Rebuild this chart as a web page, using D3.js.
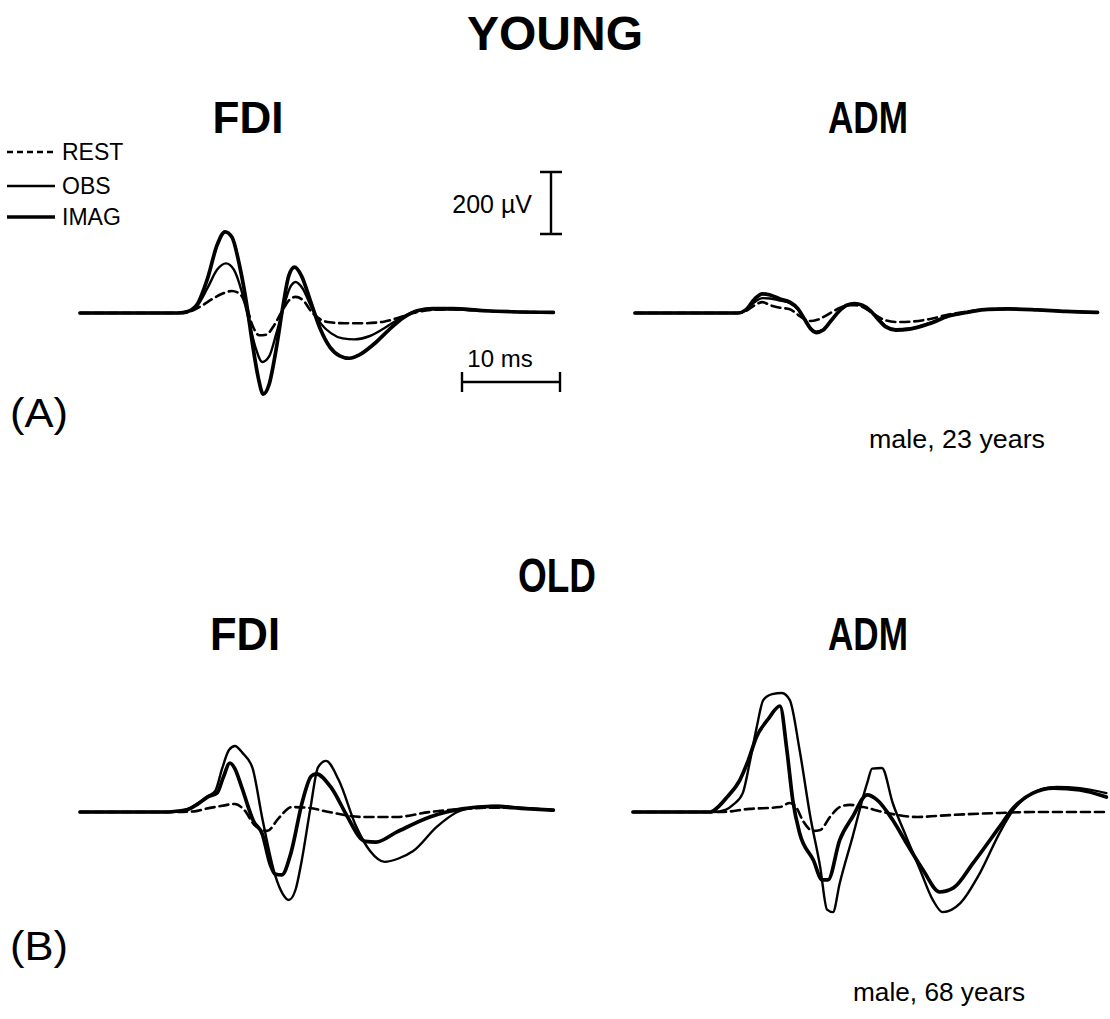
<!DOCTYPE html>
<html>
<head>
<meta charset="utf-8">
<script src="https://cdn.jsdelivr.net/npm/d3@7"></script>
<style>
  html, body { margin: 0; padding: 0; background: #fff; }
  svg { display: block; font-family: "Liberation Sans", Arial, sans-serif; }
</style>
</head>
<body>
<svg id="fig" width="1110" height="1019"></svg>
<script>
// Motor evoked potentials, [time (ms), amplitude (µV)] samples per condition

// YOUNG – FDI
const youngFdiRest = [[0,0],[10.5,0],[11.5,8],[12.5,25],[13.5,45],[14.5,62],[15.5,71],[16.3,62],[17,20],[17.6,-40],[18.3,-72],[19,-70],[19.8,-40],[20.6,5],[21.3,40],[22,52],[22.8,40],[23.6,5],[24.5,-20],[25.5,-30],[27,-33],[29,-33],[31,-28],[32.5,-15],[34,0],[36,10],[38,12],[41,7],[44,4],[48.3,2]];
const youngFdiObs = [[0,0],[10,0],[11,5],[12,25],[13,80],[14,140],[14.9,160],[15.7,140],[16.5,70],[17.2,-20],[17.9,-110],[18.6,-158],[19.3,-140],[20,-70],[20.7,10],[21.4,80],[22,100],[22.7,80],[23.6,20],[24.6,-35],[25.6,-65],[26.8,-82],[28,-85],[29.5,-75],[31,-50],[32.5,-20],[34,3],[36,12],[38,12],[41,7],[44,4],[48.3,2]];
const youngFdiImag = [[0,0],[10,0],[11,5],[12,30],[13,110],[14,220],[14.8,262],[15.5,245],[16.3,150],[17,30],[17.6,-100],[18.2,-210],[18.7,-262],[19.3,-230],[20,-120],[20.7,20],[21.3,120],[21.9,148],[22.6,120],[23.5,40],[24.5,-50],[25.5,-110],[26.5,-138],[27.5,-146],[28.5,-135],[30,-100],[31.5,-55],[33,-15],[34.5,8],[36,14],[38,14],[41,8],[44,4],[48.3,2]];

// YOUNG – ADM
const youngAdmRest = [[0,0],[10.5,0],[11.3,6],[12.2,25],[13,35],[13.8,25],[14.8,17],[15.8,12],[16.6,-5],[17.3,-20],[17.9,-26],[18.6,-22],[19.4,-10],[20.2,5],[21,18],[21.8,25],[22.5,25],[23.3,18],[24,5],[24.8,-12],[25.6,-24],[26.6,-29],[28,-28],[30,-20],[32,-5],[34,5],[36,12],[38,13],[41,10],[44,5],[47.2,2]];
const youngAdmObs = [[0,0],[10.5,0],[11.3,8],[12.2,35],[13,48],[13.8,47],[14.8,40],[15.8,32],[16.6,12],[17.3,-20],[17.9,-48],[18.5,-60],[19.2,-54],[20,-25],[20.8,5],[21.6,24],[22.4,29],[23.2,24],[24,8],[24.8,-18],[25.6,-42],[26.6,-52],[28,-50],[30,-33],[32,-10],[34,3],[36,12],[38,13],[41,10],[44,5],[47.2,2]];
const youngAdmImag = [[0,0],[10.5,0],[11.3,10],[12.2,45],[13,62],[13.8,58],[14.8,45],[15.8,35],[16.6,15],[17.3,-20],[17.9,-50],[18.5,-63],[19.2,-55],[20,-25],[20.8,5],[21.6,25],[22.4,30],[23.2,25],[24,8],[24.8,-20],[25.6,-45],[26.6,-55],[28,-52],[30,-35],[32,-10],[34,3],[36,12],[38,13],[41,10],[44,5],[47.2,2]];

// OLD – FDI
const oldFdiRest = [[0,0],[10,0],[11.7,2],[12.8,10],[14.5,20],[15.8,26],[16.8,5],[17.8,-42],[19.1,-61],[20.3,-19],[21.6,16],[23.4,13],[25.4,0],[28.9,-16],[32.3,-16],[35.7,0],[39.2,10],[42,14],[45,12],[48.3,6]];
const oldFdiObs = [[0,0],[9,0],[10,3],[11,10],[12,28],[13,50],[13.8,68],[14.5,140],[15.2,200],[15.8,213],[16.6,190],[17.6,142],[18.6,-20],[19.9,-203],[20.7,-265],[21.3,-284],[22,-250],[22.6,-161],[23.5,10],[24.3,145],[25.1,165],[26.4,103],[28.2,-48],[29.6,-126],[31.1,-161],[32.5,-150],[34,-126],[36.4,-48],[38.5,0],[40.5,15],[42.7,20],[45,14],[48.3,6]];
const oldFdiImag = [[0,0],[9,0],[10,3],[11,8],[12,25],[13,48],[14,62],[14.6,110],[15.3,158],[15.8,140],[16.5,80],[17.7,-29],[18.6,-71],[19.4,-168],[19.9,-200],[20.6,-203],[21.5,-135],[22.7,35],[23.6,116],[24.1,123],[25.6,80],[27.2,-10],[28.6,-84],[29.1,-95],[30.2,-97],[32.3,-65],[35.7,-16],[37.4,0],[39,10],[42,18],[45,12],[48.3,6]];

// OLD – ADM
const oldAdmRest = [[0,0],[9,0],[11.9,10],[15,16],[16,29],[16.7,13],[17.3,-26],[18.4,-61],[19.1,-58],[20.1,-16],[21.1,16],[22.1,23],[23.5,16],[25.5,0],[29,-16],[32.3,-10],[37.4,-3],[40.8,0],[48.3,0]];
const oldAdmObs = [[0,0],[8.2,0],[9.5,8],[10.2,23],[11.2,61],[11.9,158],[12.6,270],[13.3,361],[14.2,380],[15.2,384],[16,361],[17,200],[18.1,-16],[19.1,-177],[19.8,-315],[20.4,-323],[21.1,-229],[22.4,-81],[23.9,94],[24.4,140],[25.4,142],[26.5,29],[27.9,-81],[29.3,-187],[30.6,-284],[31.6,-323],[33.4,-294],[35.4,-197],[37.4,-68],[38.8,6],[40.8,61],[43.2,81],[45.6,77],[48.3,61]];
const oldAdmImag = [[0,0],[7.9,0],[8.8,20],[9.6,48],[10.9,103],[11.8,170],[12.6,242],[13.8,300],[15,342],[15.7,200],[16.3,39],[17,-68],[18.4,-155],[19.3,-219],[19.9,-219],[21.1,-90],[22.4,-16],[23.9,55],[24.9,39],[26.5,-26],[27.9,-100],[29.6,-187],[31.3,-258],[32.7,-245],[34.7,-165],[37.4,-48],[38.8,13],[40.8,61],[42.9,77],[45.6,71],[48.3,48]];

// Labels
const groupTitles = ["YOUNG", "OLD"];
const muscleNames = ["FDI", "ADM"];
const conditionNames = ["REST", "OBS", "IMAG"];
const subjectLabels = ["male, 23 years", "male, 68 years"];
const panelTags = ["(A)", "(B)"];
const scaleBarLabels = ["200 \u00b5V", "10 ms"];
const scaleBarValues = [200, 10];

// Layout
const svg = d3.select("#fig");
const PX_PER_MS = 9.8, PX_PER_UV = 0.31;
const styles = {
  REST: { width: 2.6, dash: "9,5" },
  OBS:  { width: 2.4, dash: null },
  IMAG: { width: 3.7, dash: null }
};

const panels = [
  { x0: 80,  base: 313, traces: [youngFdiRest, youngFdiObs, youngFdiImag] },
  { x0: 635, base: 313, traces: [youngAdmRest, youngAdmObs, youngAdmImag] },
  { x0: 80,  base: 812, traces: [oldFdiRest, oldFdiObs, oldFdiImag] },
  { x0: 633, base: 812, traces: [oldAdmRest, oldAdmObs, oldAdmImag] }
];

let refX, refY;
panels.forEach((p, i) => {
  const x = d3.scaleLinear().domain([0, 50]).range([p.x0, p.x0 + 50 * PX_PER_MS]);
  const y = d3.scaleLinear().domain([-400, 400]).range([p.base + 400 * PX_PER_UV, p.base - 400 * PX_PER_UV]);
  if (i === 0) { refX = x; refY = y; }
  const line = d3.line().x(d => x(d[0])).y(d => y(d[1])).curve(d3.curveMonotoneX);
  const g = svg.append("g");
  p.traces.forEach((tr, k) => {
    const st = styles[conditionNames[k]];
    g.append("path")
      .datum(tr)
      .attr("d", line)
      .attr("fill", "none")
      .attr("stroke", "#000")
      .attr("stroke-width", st.width)
      .attr("stroke-linejoin", "round")
      .attr("stroke-linecap", "round")
      .attr("stroke-dasharray", st.dash);
  });
});

// Text helper; an optional width squeezes narrow headings
const txt = (x, y, s, size, weight, anchor, width) => {
  const t = svg.append("text").attr("x", x).attr("y", y).text(s)
    .attr("font-size", size).attr("font-weight", weight || "normal")
    .attr("text-anchor", anchor || "start").attr("fill", "#000");
  if (width) t.attr("textLength", width).attr("lengthAdjust", "spacingAndGlyphs");
  return t;
};

txt(555, 50, groupTitles[0], 48, "bold", "middle");
txt(248, 133, muscleNames[0], 44, "bold", "middle");
txt(868, 133, muscleNames[1], 44, "bold", "middle", 80);
txt(557, 592, groupTitles[1], 48, "bold", "middle", 78);
txt(245, 650, muscleNames[0], 46, "bold", "middle", 70);
txt(868, 650, muscleNames[1], 46, "bold", "middle", 80);

// Legend
const legendY = [152, 186, 217];
conditionNames.forEach((c, k) => {
  const st = styles[c];
  svg.append("line").attr("x1", 7).attr("x2", 55).attr("y1", legendY[k]).attr("y2", legendY[k])
    .attr("stroke", "#000").attr("stroke-width", st.width).attr("stroke-dasharray", st.dash ? "6,4" : null);
  txt(62, legendY[k] + 8, c, 23);
});

// Scale bars, sized through the trace scales
const vbX = 551, vbBottom = 234;
const vbTop = vbBottom - (refY(0) - refY(scaleBarValues[0]));
svg.append("path")
  .attr("d", `M${vbX},${vbTop}V${vbBottom}M${vbX - 11},${vbTop}H${vbX + 11}M${vbX - 11},${vbBottom}H${vbX + 11}`)
  .attr("stroke", "#000").attr("stroke-width", 2.4).attr("fill", "none");
txt(532, 213, scaleBarLabels[0], 25, "normal", "end");

const hbY = 382, hbLeft = 462;
const hbRight = hbLeft + (refX(scaleBarValues[1]) - refX(0));
svg.append("path")
  .attr("d", `M${hbLeft},${hbY}H${hbRight}M${hbLeft},${hbY - 10}V${hbY + 10}M${hbRight},${hbY - 10}V${hbY + 10}`)
  .attr("stroke", "#000").attr("stroke-width", 2.4).attr("fill", "none");
txt(500, 367, scaleBarLabels[1], 24, "normal", "middle");

// Panel tags and subject info
txt(10, 427, panelTags[0], 40, "normal", "start", 58);
txt(10, 960, panelTags[1], 40, "normal", "start", 58);
txt(1045, 448, subjectLabels[0], 25, "normal", "end", 176);
txt(1025, 1001, subjectLabels[1], 25, "normal", "end", 172);
</script>
</body>
</html>
